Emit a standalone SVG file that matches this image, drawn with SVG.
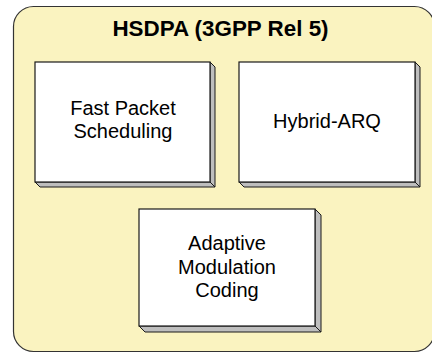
<svg xmlns="http://www.w3.org/2000/svg" width="432" height="353" viewBox="0 0 432 353">
  <style>
    .frame { fill: #FAF3C0; stroke: #333333; stroke-width: 1.2; }
    .title { font-family: "Liberation Sans", Arial, sans-serif; font-size: 22.4px; font-weight: bold; fill: #000000; text-anchor: middle; }
    .face { fill: #FFFFFF; stroke: #1a1a1a; stroke-width: 1.2; }
    .side { fill: #BEBEBE; stroke: #1a1a1a; stroke-width: 1; stroke-linejoin: round; }
    .label { font-family: "Liberation Sans", Arial, sans-serif; font-size: 20px; fill: #000000; text-anchor: middle; }
  </style>

  <!-- Container -->
  <g id="hsdpa">
    <rect class="frame" x="13.5" y="6.5" width="421" height="345" rx="20" ry="20"/>
    <text class="title" x="220.5" y="35.5">HSDPA (3GPP Rel 5)</text>
  </g>

  <!-- Feature blocks with extruded edges -->
  <g id="fast-packet-scheduling">
    <polygon class="side" points="210,62 215,67 215,187 210,182"/>
    <polygon class="side" points="35,182 210,182 215,187 40,187"/>
    <rect class="face" x="35" y="62" width="175" height="120"/>
    <text class="label" x="123" y="115">Fast Packet</text>
    <text class="label" x="123" y="138">Scheduling</text>
  </g>

  <g id="hybrid-arq">
    <polygon class="side" points="415,62 420,67 420,187 415,182"/>
    <polygon class="side" points="239,182 415,182 420,187 244,187"/>
    <rect class="face" x="239" y="62" width="176" height="120"/>
    <text class="label" x="327" y="128">Hybrid-ARQ</text>
  </g>

  <g id="adaptive-modulation-coding">
    <polygon class="side" points="315,209 321,215 321,332 315,326"/>
    <polygon class="side" points="139,326 315,326 321,332 145,332"/>
    <rect class="face" x="139" y="209" width="176" height="117"/>
    <text class="label" x="227" y="250">Adaptive</text>
    <text class="label" x="227" y="273.5">Modulation</text>
    <text class="label" x="227" y="297">Coding</text>
  </g>

  <!-- No connectors between the blocks -->
  <g id="connectors"/>
</svg>
